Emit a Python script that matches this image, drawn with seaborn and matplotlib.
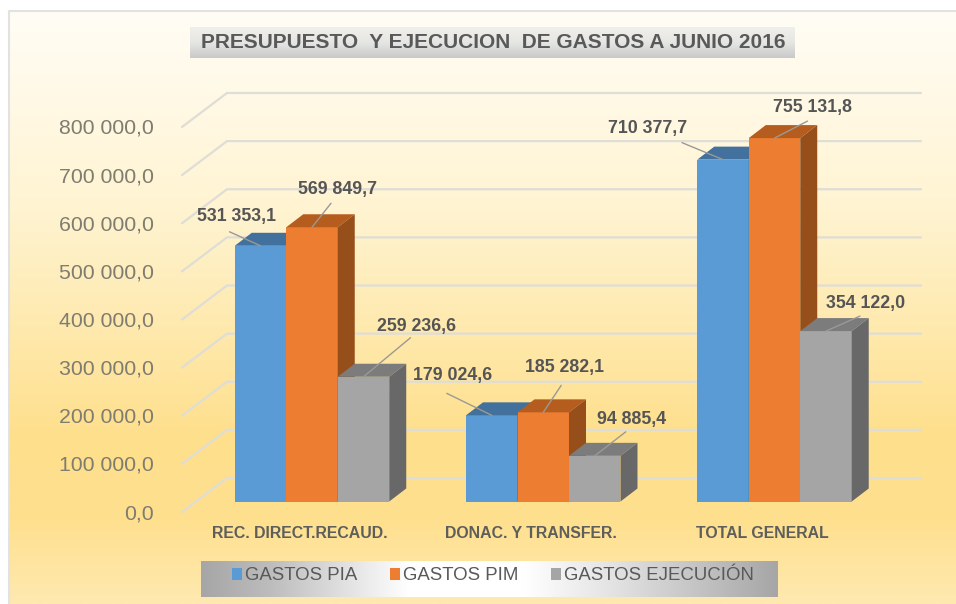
import numpy as np
import pandas as pd
import matplotlib
matplotlib.use("Agg")
import matplotlib.pyplot as plt
import seaborn as sns
from matplotlib.colors import LinearSegmentedColormap
from matplotlib.patches import Polygon
from matplotlib.transforms import ScaledTranslation

categories = ["REC. DIRECT.RECAUD.", "DONAC. Y TRANSFER.", "TOTAL GENERAL"]
series_names = ["GASTOS PIA", "GASTOS PIM", "GASTOS EJECUCIÓN"]
gastos_pia = [531353.1, 179024.6, 710377.7]
gastos_pim = [569849.7, 185282.1, 755131.8]
gastos_ejec = [259236.6, 94885.4, 354122.0]
y_ticks = [0, 100000, 200000, 300000, 400000, 500000, 600000, 700000, 800000]

front_colors = ["#5B9BD5", "#ED7D31", "#A5A5A5"]
top_colors = ["#41719C", "#B55D1F", "#7C7C7C"]
side_colors = ["#3F6C94", "#964F1A", "#686868"]

# label centre and leader start, pixels from the bar top centre (x right, y up)
label_offsets = [
    [(-24, 29), (25, 38), (53, 50)],
    [(-39, 40), (21, 45), (37, 36)],
    [(-75, 31), (38, 31), (40, 28)],
]
leader_offsets = [
    [(-31, 14), (19, 24), (47, 39)],
    [(-45, 22), (18, 27), (31, 24)],
    [(-41, 17), (33, 17), (34, 15)],
]


def fmt(v):
    return f"{v:,.1f}".replace(",", " ").replace(".", ",")


W, H = 956, 604
px_per_unit = 385 / 800000
px_per_cat = 231.25
base_px = 501.5
ax_left, ax_right, ax_top = 182, 921, 60

sns.set_style("white")
plt.rcParams["font.family"] = ["Liberation Sans", "DejaVu Sans"]

fig = plt.figure(figsize=(W / 100, H / 100), dpi=100, facecolor="white")

# background in pixel coordinates
bg = fig.add_axes([0, 0, 1, 1], zorder=-1)
bg.axis("off")
cm_bg = LinearSegmentedColormap.from_list(
    "bg", [(0, "#FFFDF6"), (0.35, "#FFF3CF"), (0.72, "#FEDF8C"), (0.86, "#FEE08F"), (1, "#FFE9B0")])
bg.imshow(np.linspace(0, 1, 256)[:, None], cmap=cm_bg, extent=(9, W, H, 11), aspect="auto")
bg.plot([9, 9, W], [H, 11, 11], color="#E2E2E2", lw=1.5)
cm_title = LinearSegmentedColormap.from_list("t", ["#F0EFEB", "#E6E6E4", "#C9C9C9"])
bg.imshow(np.linspace(0, 1, 64)[:, None], cmap=cm_title, extent=(190, 795, 58, 27), aspect="auto")
cm_leg = LinearSegmentedColormap.from_list(
    "l", [(0, "#A6A6A6"), (0.12, "#BDBDBD"), (0.26, "#E4E4E4"), (0.36, "#FFFFFF"), (0.56, "#FFFFFF"),
          (0.72, "#E2E2E2"), (0.88, "#C0C0C0"), (1, "#A6A6A6")])
bg.imshow(np.linspace(0, 1, 256)[None, :], cmap=cm_leg, extent=(201, 778, 597, 561), aspect="auto")
bg.set_xlim(0, W)
bg.set_ylim(H, 0)

ax = fig.add_axes([ax_left / W, 1 - base_px / H, (ax_right - ax_left) / W, (base_px - ax_top) / H])
ax.patch.set_alpha(0)

df = pd.DataFrame({
    "categoria": categories * 3,
    "serie": np.repeat(series_names, 3),
    "valor": gastos_pia + gastos_pim + gastos_ejec,
})
sns.barplot(data=df, x="categoria", y="valor", hue="serie", palette=front_colors,
            width=0.668, gap=0, errorbar=None, saturation=1, linewidth=0, ax=ax, zorder=3)

ax.set_xlim((ax_left - 312) / px_per_cat, (ax_right - 312) / px_per_cat)
ax.set_ylim(0, (base_px - ax_top) / px_per_unit)
sns.despine(ax=ax, left=True, bottom=True)
ax.set_xlabel("")
ax.set_ylabel("")

# bar depth
dx = 17 / px_per_cat
dy = 13 / px_per_unit
for s, cont in enumerate(ax.containers):
    for c, bar in enumerate(cont):
        x0, w, h = bar.get_x(), bar.get_width(), bar.get_height()
        z = 3 + s * 0.1
        bar.set_zorder(z)
        ax.add_patch(Polygon([(x0, h), (x0 + w, h), (x0 + w + dx, h + dy), (x0 + dx, h + dy)],
                             fc=top_colors[s], ec="none", zorder=z))
        ax.add_patch(Polygon([(x0 + w, 0), (x0 + w + dx, dy), (x0 + w + dx, h + dy), (x0 + w, h)],
                             fc=side_colors[s], ec="none", zorder=z))
        anchor = (x0 + w / 2, h)
        lx, ly = leader_offsets[c][s]
        ax.annotate("", xy=anchor, xytext=(lx, ly), textcoords="offset pixels",
                    arrowprops=dict(arrowstyle="-", color="#9A9A94", lw=1, shrinkA=0, shrinkB=0),
                    zorder=5, annotation_clip=False)
        tx, ty = label_offsets[c][s]
        ax.annotate(fmt(h), xy=anchor, xytext=(tx, ty), textcoords="offset pixels",
                    ha="center", va="center", fontsize=12.8, fontweight="bold",
                    color="#555555", zorder=6, annotation_clip=False)

# walls: back gridlines plus the slanted left wall
wall_dx = 45 / px_per_cat
wall_front = -10.5 / px_per_unit
wall_back = 23.5 / px_per_unit
x_left = ax.get_xlim()[0]
x_right = ax.get_xlim()[1]
for v in y_ticks:
    ax.plot([x_left, x_left + wall_dx, x_right], [v + wall_front, v + wall_back, v + wall_back],
            color="#DEDDD6", lw=1.6, zorder=1, clip_on=False, solid_joinstyle="miter")

ax.set_yticks(y_ticks)
ax.set_yticklabels([fmt(v) for v in y_ticks])
ax.tick_params(axis="y", length=0, pad=28 * 0.72, labelsize=15.3, labelcolor="#7F7D70")
ax.tick_params(axis="x", length=0, pad=24 * 0.72, labelsize=11.4, labelcolor="#5E5E5A")
for lab in ax.get_yticklabels():
    lab.set_transform(lab.get_transform() + ScaledTranslation(0, -10 / 100, fig.dpi_scale_trans))
for lab in ax.get_xticklabels():
    lab.set_fontweight("bold")
    lab.set_transform(lab.get_transform() + ScaledTranslation(-12 / 100, 0, fig.dpi_scale_trans))

sns.move_legend(ax, "center", bbox_to_anchor=(493 / W, 1 - 576 / H), bbox_transform=fig.transFigure,
                ncol=3, frameon=False, title=None, fontsize=13.4, labelcolor="#595959",
                handlelength=0.55, handleheight=0.55, handletextpad=0.16, columnspacing=1.75)

fig.text(493 / W, 1 - 42 / H, "PRESUPUESTO  Y EJECUCION  DE GASTOS A JUNIO 2016",
         ha="center", va="center", fontsize=15, fontweight="bold", color="#595959")

fig.savefig("out.png", dpi=100, facecolor="white")
